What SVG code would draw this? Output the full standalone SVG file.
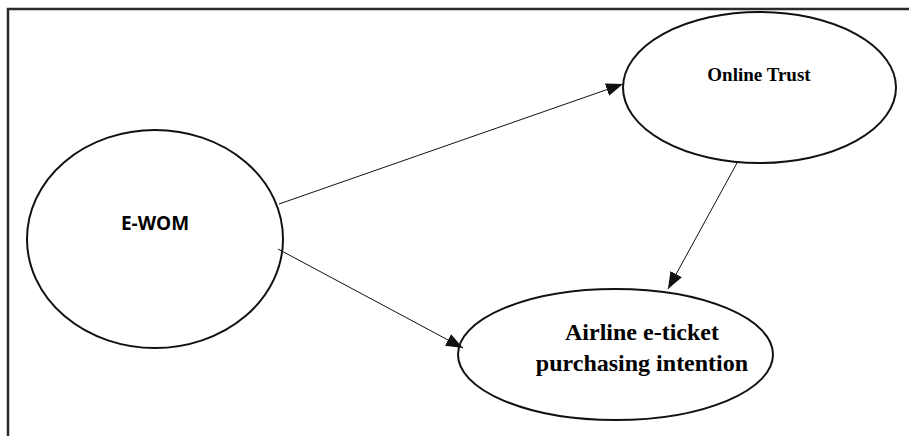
<svg xmlns="http://www.w3.org/2000/svg" width="909" height="436" viewBox="0 0 909 436">
<style>
.node ellipse{fill:#fff;stroke:#111;stroke-width:2}
.frame{stroke:#2a2a2a;stroke-width:2.5;fill:none}
.conn line{stroke:#111;stroke-width:1}
.ser{font-family:"Liberation Serif","Times New Roman",serif;font-weight:bold;fill:#000;text-anchor:middle}
.sans{font-family:"Open Sans","Liberation Sans",sans-serif;font-weight:bold;fill:#000;text-anchor:middle}
</style>
<defs>
<marker id="ah" viewBox="0 0 17 13" refX="17" refY="6.5" markerWidth="17" markerHeight="13" markerUnits="userSpaceOnUse" orient="auto">
<path d="M0,0 L17,6.5 L0,13 Z" fill="#111"/>
</marker>
</defs>
<rect width="909" height="436" fill="#fff"/>
<path class="frame" d="M8,436 V9 H909"/>
<g id="ewom" class="node">
<ellipse cx="155" cy="239" rx="128" ry="109"/>
<text class="sans" x="155" y="230" font-size="19">E-WOM</text>
</g>
<g id="trust" class="node">
<ellipse cx="759.5" cy="87.5" rx="136.5" ry="75.5"/>
<text class="ser" x="759" y="81" font-size="19">Online Trust</text>
</g>
<g id="intention" class="node">
<ellipse cx="615.5" cy="354.5" rx="157.5" ry="65.5"/>
<text class="ser" x="642" y="340" font-size="24">Airline e-ticket</text>
<text class="ser" x="642" y="371" font-size="24">purchasing intention</text>
</g>
<g id="connectors" class="conn">
<line x1="279" y1="204" x2="623" y2="84" marker-end="url(#ah)"/>
<line x1="278" y1="249" x2="463" y2="348" marker-end="url(#ah)"/>
<line x1="737" y1="163" x2="668" y2="289" marker-end="url(#ah)"/>
</g>
</svg>
